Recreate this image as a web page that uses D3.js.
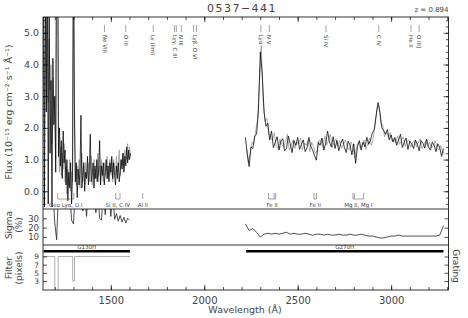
<!DOCTYPE html>
<html>
<head>
<meta charset="utf-8">
<script src="https://cdn.jsdelivr.net/npm/d3@7"></script>
<style>
  body { margin: 0; background: #fff; }
  text { font-family: "DejaVu Sans", sans-serif; fill: #444; }
</style>
</head>
<body>
<svg id="plot"></svg>
<script>
// Object and redshift
var objectName = '0537\u2212441';
var redshift = 0.894;

// G130H spectrum, 5 A steps from 1140 A
var g130Start = 1140, g130Step = 5;
var g130Flux = [6.0, -0.5, 7.0, 2.5, 8.0, -0.4, 5.8, 1.2, 3.5, -0.5,
  4.2, 2.1, 3.0, 0.6, 9.0, 9.0, 1.1, 2.0, 0.8, 1.6,
  0.4, 1.9, 0.9, 1.3, 0.2, 1.0, -0.3, 0.6, 0.1, 0.9,
  -0.4, 0.5, 9.0, 2.5, 0.3, 0.9, -0.2, 0.7, 0.2, 0.6,
  2.4, 0.1, 0.5, 0.9, 0.0, 0.6, 0.4, 1.1, 0.2, 0.7,
  1.8, 0.3, 0.5, 0.9, 0.1, 0.8, 0.4, 1.0, 0.3, 0.7,
  1.6, 0.2, 0.8, 0.5, 0.9, 0.2, 0.6, 1.0, 0.4, 0.8,
  0.3, 0.9, 0.6, 1.1, 0.4, 0.9, 0.5, 0.2, 0.8, 0.4,
  0.9, 0.3, 0.6, 1.0, 0.7, 1.2, 0.6, 1.1, 0.8, 1.4,
  0.9, 1.3, 1.0, 1.2];
var g130FluxAlt = [4.5, 2.0, 5.5, 3.0, 6.0, 2.8, 4.8, 3.2, 4.0, 1.5,
  3.6, 2.8, 2.4, 1.0, 8.0, 8.0, 1.5, 0.6, 1.4, 0.5,
  1.2, 0.7, 1.5, 0.3, 0.8, -0.1, 0.7, 0.2, 1.0, 0.0,
  0.6, 0.3, 6.0, 3.0, 0.5, 0.2, 0.8, 0.4, 1.0, 0.1,
  0.7, 1.2, 0.3, 0.8, 0.2, 0.9, 0.4, 0.6, 0.9, 0.3,
  0.7, 1.1, 0.2, 0.6, 1.0, 0.4, 0.7, 0.3, 1.2, 0.5,
  0.8, 0.2, 1.0, 0.6, 0.3, 0.9, 0.5, 0.7, 1.1, 0.4,
  0.8, 1.0, 0.5, 0.9, 0.3, 1.0, 0.7, 0.5, 1.1, 0.6,
  0.9, 1.3, 0.5, 1.0, 0.8, 1.2, 0.7, 1.3, 1.0, 1.1,
  1.5, 1.0, 1.4, 1.1];

// G270H spectrum, 10 A steps from 2220 A (second exposure offset by 5 A)
var g270Start = 2220, g270Step = 10, g270AltStart = 2225;
var g270Flux = [1.70, 1.20, 0.78, 1.40, 1.35, 1.75, 1.80, 2.55, 4.40, 3.70,
  2.50, 2.05, 2.15, 1.62, 1.90, 1.38, 1.55, 1.72, 1.30, 1.58,
  1.66, 1.28, 1.35, 1.74, 1.50, 1.22, 1.60, 1.45, 1.70, 1.32,
  1.48, 1.62, 1.25, 1.38, 1.70, 1.42, 1.30, 1.12, 0.98, 1.55,
  1.45, 1.68, 1.30, 1.52, 1.90, 1.55, 1.40, 1.72, 1.35, 1.60,
  1.28, 1.50, 1.65, 1.38, 1.22, 1.58, 1.46, 1.15, 1.50, 0.88,
  1.42, 1.60, 1.30, 1.55, 1.40, 1.70, 1.48, 1.62, 1.85, 1.95,
  2.40, 2.80, 2.50, 2.00, 1.92, 1.80, 1.95, 1.62, 1.78, 1.55,
  1.70, 1.45, 1.62, 1.80, 1.38, 1.55, 1.68, 1.32, 1.58, 1.50,
  1.35, 1.62, 1.48, 1.28, 1.60, 1.52, 1.36, 1.65, 1.40, 1.30,
  1.55, 1.45, 1.25, 1.50, 1.38, 1.10, 1.35];
var g270FluxAlt = [1.35, 0.92, 1.20, 1.55, 1.48, 1.90, 2.25, 3.40, 4.60, 2.90,
  2.20, 2.30, 1.80, 1.70, 1.60, 1.85, 1.42, 1.35, 1.65, 1.48,
  1.40, 1.58, 1.80, 1.30, 1.45, 1.62, 1.35, 1.55, 1.48, 1.68,
  1.30, 1.52, 1.45, 1.60, 1.25, 1.55, 1.40, 1.20, 1.30, 1.62,
  1.58, 1.38, 1.75, 1.45, 1.62, 1.80, 1.38, 1.55, 1.66, 1.42,
  1.60, 1.35, 1.48, 1.62, 1.40, 1.30, 1.55, 1.42, 1.05, 1.38,
  1.55, 1.35, 1.48, 1.62, 1.32, 1.50, 1.68, 1.45, 1.70, 2.15,
  2.65, 2.70, 2.15, 2.10, 1.72, 1.88, 1.70, 1.85, 1.58, 1.66,
  1.52, 1.75, 1.48, 1.60, 1.72, 1.42, 1.58, 1.62, 1.38, 1.55,
  1.60, 1.40, 1.52, 1.66, 1.35, 1.45, 1.58, 1.42, 1.55, 1.38,
  1.42, 1.60, 1.38, 1.30, 1.45, 1.28, 1.15];

// Sigma (%) per grating
var g130SigStart = 1140, g130SigStep = 10;
var g130Sigma = [60, 60, 60, 60, 60, 60, 25, 7, 60, 60,
  45, 60, 60, 60, 60, 28, 24, 60, 60, 60,
  60, 38, 60, 32, 60, 60, 60, 60, 36, 60,
  30, 28, 60, 34, 60, 60, 32, 60, 29, 35,
  27, 33, 26, 31, 25, 30, 28];
var g270SigStart = 2220, g270SigStep = 20;
var g270Sigma = [24, 17, 19, 15, 10, 13, 14, 13, 14, 13,
  14, 15, 13, 14, 13, 13, 14, 13, 12, 13,
  13, 12, 13, 12, 12, 13, 12, 12, 13, 12,
  12, 13, 12, 11, 11, 10, 9, 9, 10, 11,
  11, 12, 11, 11, 11, 11, 11, 11, 11, 11,
  11, 11, 12, 22];

// Filter width (pixels), G130H
var filterWave = [1140, 1200, 1200, 1218, 1218, 1296, 1296, 1306, 1306, 1603];
var filterPix = [9, 9, 0, 0, 9, 9, 3, 3, 9, 9];

// Gratings
var gratings = ['G130H', 'G270H'];
var gratingStart = [1140, 2224];
var gratingEnd = [1603, 3280];
var gratingLevel = 10.3;

// Emission lines (rest wavelengths)
var emLabels = ['Ne VIII', 'O III', 'Ly (lim)', 'Ly\u03b3, C III', 'N III', 'Ly\u03b2, O VI',
  'Ly\u03b1', 'N V', 'Si IV', 'C IV', 'He II', 'O III]'];
var emRest = [[774], [834], [912], [972, 977], [991], [1026, 1034],
  [1216], [1240], [1400], [1549], [1640], [1663]];

// Absorption / ISM lines (observed wavelengths)
var absLabels = ['Geo Ly\u03b1, O I', 'Si II, C IV', 'Al II', 'Fe II', 'Fe II', 'Mg II, Mg I'];
var absWaves = [[1216, 1302], [1526, 1549], [1671], [2344, 2374, 2382], [2587, 2600], [2796, 2803, 2853]];

// Ticks
var xMajor = [1500, 2000, 2500, 3000];
var fluxTicks = [0, 1, 2, 3, 4, 5];
var sigmaTicks = [10, 20, 30];
var filterTicks = [3, 5, 7, 9];

var width = 468, height = 318;

var svg = d3.select('#plot')
  .attr('width', width)
  .attr('height', height);

// Scales
var x = d3.scaleLinear().domain([1137, 3307]).range([43, 448.5]);
var yFlux = d3.scaleLinear().domain([-0.56, 5.5]).range([209, 17]);
var ySig = d3.scaleLinear().domain([1.4, 40]).range([245, 209]);
var yFil = d3.scaleLinear().domain([0.8, 11.8]).range([290, 245]);

var left = x.range()[0], right = x.range()[1];

function series(start, step, vals) {
  return vals.map(function(v, i) { return {w: start + step * i, v: v}; });
}

// Clip paths for panels
var defs = svg.append('defs');
[['clipFlux', yFlux], ['clipSig', ySig], ['clipFil', yFil]].forEach(function(c) {
  defs.append('clipPath').attr('id', c[0])
    .append('rect')
    .attr('x', left).attr('width', right - left)
    .attr('y', c[1].range()[1]).attr('height', c[1].range()[0] - c[1].range()[1]);
});

// Flux panel
var fluxLine = d3.line().x(d => x(d.w)).y(d => yFlux(d.v));
var gFlux = svg.append('g').attr('clip-path', 'url(#clipFlux)');
gFlux.append('path').datum(series(g130Start, g130Step, g130FluxAlt))
  .attr('d', fluxLine).attr('fill', 'none').attr('stroke', '#9a9a9a').attr('stroke-width', 0.8);
gFlux.append('path').datum(series(g270AltStart, g270Step, g270FluxAlt))
  .attr('d', fluxLine).attr('fill', 'none').attr('stroke', '#9a9a9a').attr('stroke-width', 0.8);
gFlux.append('path').datum(series(g130Start, g130Step, g130Flux))
  .attr('d', fluxLine).attr('fill', 'none').attr('stroke', '#000').attr('stroke-width', 0.75);
gFlux.append('path').datum(series(g270Start, g270Step, g270Flux))
  .attr('d', fluxLine).attr('fill', 'none').attr('stroke', '#000').attr('stroke-width', 0.75);

// Sigma panel
var sigLine = d3.line().x(d => x(d.w)).y(d => ySig(d.v));
var gSig = svg.append('g').attr('clip-path', 'url(#clipSig)');
gSig.append('path').datum(series(g130SigStart, g130SigStep, g130Sigma))
  .attr('d', sigLine).attr('fill', 'none').attr('stroke', '#222').attr('stroke-width', 0.8);
gSig.append('path').datum(series(g270SigStart, g270SigStep, g270Sigma))
  .attr('d', sigLine).attr('fill', 'none').attr('stroke', '#222').attr('stroke-width', 0.8);

// Filter panel
var gFil = svg.append('g').attr('clip-path', 'url(#clipFil)');
gFil.append('path').datum(filterWave.map((w, i) => ({w: w, v: filterPix[i]})))
  .attr('d', d3.line().x(d => x(d.w)).y(d => yFil(d.v)))
  .attr('fill', 'none').attr('stroke', '#999').attr('stroke-width', 0.8);

// Grating bars
gratings.forEach(function(g, i) {
  svg.append('line')
    .attr('x1', x(gratingStart[i])).attr('x2', x(gratingEnd[i]))
    .attr('y1', yFil(gratingLevel)).attr('y2', yFil(gratingLevel))
    .attr('stroke', '#000').attr('stroke-width', 2.5);
  svg.append('text')
    .attr('x', (x(gratingStart[i]) + x(gratingEnd[i])) / 2)
    .attr('y', yFil(gratingLevel) - 2.5)
    .attr('text-anchor', 'middle')
    .style('font-size', '5.5px')
    .text(g);
});

// Emission line markers along the top
emLabels.forEach(function(lab, i) {
  var xs = emRest[i].map(r => x(r * (1 + redshift)));
  xs.forEach(function(px) {
    svg.append('line').attr('x1', px).attr('x2', px).attr('y1', 25).attr('y2', 32)
      .attr('stroke', '#666').attr('stroke-width', 0.6);
  });
  var cx = d3.mean(xs);
  svg.append('text')
    .attr('transform', 'translate(' + cx + ',35) rotate(90)')
    .attr('dy', '0.35em')
    .style('font-size', '5.5px')
    .text(lab);
});

// Absorption markers along the bottom of the flux panel
absLabels.forEach(function(lab, i) {
  var xs = absWaves[i].map(w => x(w));
  xs.forEach(function(px) {
    svg.append('line').attr('x1', px).attr('x2', px).attr('y1', 193).attr('y2', 199)
      .attr('stroke', '#666').attr('stroke-width', 0.6);
  });
  if (xs.length > 1) {
    svg.append('line').attr('x1', d3.min(xs)).attr('x2', d3.max(xs)).attr('y1', 199).attr('y2', 199)
      .attr('stroke', '#666').attr('stroke-width', 0.6);
  }
  svg.append('text')
    .attr('x', d3.mean([d3.min(xs), d3.max(xs)]))
    .attr('y', 206.5)
    .attr('text-anchor', 'middle')
    .style('font-size', '5.5px')
    .text(lab);
});

// Axes helper
function drawAxis(gen, tx, ty) {
  var g = svg.append('g').attr('transform', 'translate(' + tx + ',' + ty + ')').call(gen);
  g.select('.domain').remove();
  g.selectAll('line').attr('stroke', '#000').attr('stroke-width', 0.7);
  g.selectAll('text').style('font-family', '"DejaVu Sans", sans-serif').style('fill', '#444');
  return g;
}

var xMinor = d3.range(1200, 3301, 100);
var fluxMinor = d3.range(-0.4, 5.41, 0.2);

// X axes (bottom and top)
drawAxis(d3.axisBottom(x).tickValues(xMinor).tickSize(-3).tickFormat(''), 0, 290);
drawAxis(d3.axisBottom(x).tickValues(xMajor).tickSize(-5).tickPadding(7).tickFormat(d3.format('d')), 0, 290)
  .selectAll('text').style('font-size', '10px');
drawAxis(d3.axisTop(x).tickValues(xMinor).tickSize(-3).tickFormat(''), 0, 17);
drawAxis(d3.axisTop(x).tickValues(xMajor).tickSize(-5).tickFormat(''), 0, 17);

// Flux axes
drawAxis(d3.axisLeft(yFlux).tickValues(fluxMinor).tickSize(-2.5).tickFormat(''), left, 0);
drawAxis(d3.axisLeft(yFlux).tickValues(fluxTicks).tickSize(-5).tickPadding(4).tickFormat(d3.format('.1f')), left, 0)
  .selectAll('text').style('font-size', '9.5px');
drawAxis(d3.axisRight(yFlux).tickValues(fluxMinor).tickSize(-2.5).tickFormat(''), right, 0);
drawAxis(d3.axisRight(yFlux).tickValues(fluxTicks).tickSize(-5).tickFormat(''), right, 0);

// Sigma axes
drawAxis(d3.axisLeft(ySig).tickValues(sigmaTicks).tickSize(-4).tickPadding(4).tickFormat(d3.format('d')), left, 0)
  .selectAll('text').style('font-size', '8.5px');
drawAxis(d3.axisRight(ySig).tickValues(sigmaTicks).tickSize(-4).tickFormat(''), right, 0);

// Filter axes
drawAxis(d3.axisLeft(yFil).tickValues(filterTicks).tickSize(-4).tickPadding(4).tickFormat(d3.format('d')), left, 0)
  .selectAll('text').style('font-size', '7.5px');
drawAxis(d3.axisRight(yFil).tickValues(filterTicks).tickSize(-4).tickFormat(''), right, 0);

// Panel frames
svg.append('rect')
  .attr('x', left).attr('y', yFlux.range()[1])
  .attr('width', right - left).attr('height', yFil.range()[0] - yFlux.range()[1])
  .attr('fill', 'none').attr('stroke', '#000').attr('stroke-width', 0.8);
[yFlux.range()[0], ySig.range()[0]].forEach(function(py) {
  svg.append('line').attr('x1', left).attr('x2', right).attr('y1', py).attr('y2', py)
    .attr('stroke', '#000').attr('stroke-width', 0.8);
});

// Title and redshift
svg.append('text')
  .attr('x', 242).attr('y', 11.5)
  .attr('text-anchor', 'middle')
  .style('font-size', '11px')
  .style('letter-spacing', '1.5px')
  .text(objectName);
svg.append('text')
  .attr('x', right).attr('y', 11.5)
  .attr('text-anchor', 'end')
  .style('font-size', '7px')
  .text('z = ' + redshift);

// Axis titles
svg.append('text')
  .attr('transform', 'translate(9,112) rotate(-90)')
  .attr('dy', '0.35em')
  .attr('text-anchor', 'middle')
  .style('font-size', '9.5px')
  .text('Flux (10\u207b\u00b9\u2075 erg cm\u207b\u00b2 s\u207b\u00b9 \u00c5\u207b\u00b9)');
svg.append('text')
  .attr('transform', 'translate(8.5,225) rotate(-90)')
  .attr('dy', '0.35em').attr('text-anchor', 'middle')
  .style('font-size', '9px').text('Sigma');
svg.append('text')
  .attr('transform', 'translate(18.5,225) rotate(-90)')
  .attr('dy', '0.35em').attr('text-anchor', 'middle')
  .style('font-size', '9px').text('(%)');
svg.append('text')
  .attr('transform', 'translate(8.5,268) rotate(-90)')
  .attr('dy', '0.35em').attr('text-anchor', 'middle')
  .style('font-size', '9px').text('Filter');
svg.append('text')
  .attr('transform', 'translate(18.5,268) rotate(-90)')
  .attr('dy', '0.35em').attr('text-anchor', 'middle')
  .style('font-size', '9px').text('(pixels)');
svg.append('text')
  .attr('transform', 'translate(456.5,266) rotate(90)')
  .attr('dy', '0.35em').attr('text-anchor', 'middle')
  .style('font-size', '9px').text('Grating');
svg.append('text')
  .attr('x', 245).attr('y', 313)
  .attr('text-anchor', 'middle')
  .style('font-size', '9.5px')
  .text('Wavelength (\u00c5)');
</script>
</body>
</html>
